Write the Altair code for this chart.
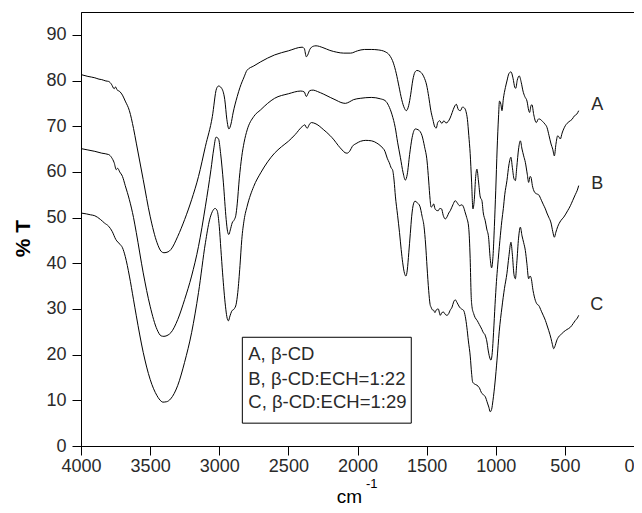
import altair as alt
import pandas as pd

# ---------------- data ----------------
wn_A = [4000,3950,3900,3870,3850,3820,3800,3780,3760,3750,3740,3720,3700,3680,3650,3620,3600,3550,3500,3450,3420,3400,3370,3350,3300,3250,3200,3150,3100,3050,3020,3005,2985,2960,2945,2930,2915,2900,2870,2850,2820,2800,2750,2700,2600,2500,2400,2385,2370,2360,2345,2320,2300,2250,2200,2150,2100,2050,2000,1950,1900,1850,1800,1770,1740,1720,1700,1680,1660,1647,1630,1615,1600,1585,1570,1545,1520,1500,1485,1470,1455,1440,1430,1420,1405,1390,1375,1360,1345,1330,1315,1300,1285,1270,1256,1240,1227,1215,1205,1195,1185,1175,1165,1155,1145,1136,1125,1112,1100,1090,1076,1065,1052,1040,1030,1020,1010,1000,990,980,973,963,955,945,930,919,905,890,875,862,855,845,830,815,803,790,774,762,755,745,738,725,707,690,678,660,645,629,615,600,588,576,565,552,540,533,520,497,470,448,430,415,400]
t_A = [81.3,80.9,80.6,80.3,80.2,79.9,79.8,79.2,78.2,78.6,78.0,77.6,76.8,75.5,73.4,69.5,66.3,58.3,50.3,44.5,42.6,42.3,42.5,43.0,45.9,49.6,53.9,59.0,65.6,72.1,78.2,78.8,78.4,75.8,71.5,69.4,70.5,72.9,76.5,78.5,80.8,82.2,83.2,84.1,85.6,86.5,87.3,87.0,85.2,85.6,86.8,87.5,87.6,87.2,86.6,86.2,86.0,86.0,86.5,86.8,86.8,86.7,86.3,85.6,83.8,81.6,78.7,75.8,73.9,73.4,74.5,77.0,80.1,81.8,82.2,81.9,80.8,79.0,76.5,73.5,71.5,69.8,69.6,70.8,71.2,70.6,71.2,70.7,71.0,71.8,73.0,74.2,74.8,73.6,73.4,74.2,74.0,73.2,71.5,68.0,64.0,58.0,51.9,54.0,59.0,60.6,58.0,54.5,53.7,51.0,49.3,47.5,45.7,41.0,39.0,41.5,48.0,56.0,65.0,72.0,75.5,74.8,73.4,76.0,78.5,79.9,81.5,81.9,80.5,78.5,78.3,80.0,81.0,79.5,77.7,76.5,75.5,73.5,73.0,74.5,74.7,72.5,70.8,71.6,71.5,71.0,70.5,69.7,68.0,66.1,65.0,63.5,66.0,67.9,67.5,67.2,68.5,70.1,71.0,71.5,72.3,72.6,73.4]

wn_B = [4000,3950,3900,3850,3800,3780,3760,3745,3735,3720,3700,3680,3650,3620,3600,3550,3500,3450,3420,3400,3370,3350,3300,3250,3200,3150,3100,3060,3040,3023,3005,2990,2970,2950,2940,2931,2920,2907,2890,2880,2870,2855,2837,2820,2798,2751,2700,2650,2600,2500,2410,2385,2370,2360,2345,2320,2290,2244,2197,2155,2120,2088,2060,2030,1980,1900,1835,1800,1775,1750,1727,1710,1690,1670,1654,1640,1623,1605,1582,1560,1533,1515,1497,1485,1475,1468,1458,1449,1440,1430,1416,1405,1392,1380,1365,1350,1340,1329,1310,1293,1278,1262,1245,1233,1220,1210,1196,1185,1178,1172,1160,1149,1135,1119,1100,1090,1080,1075,1065,1055,1045,1035,1025,1016,1005,995,986,970,956,945,935,919,905,890,880,868,858,848,835,822,810,798,786,772,762,752,745,735,720,705,690,670,655,641,630,617,600,588,576,565,552,530,508,480,460,444,425,410,400]
t_B = [65.1,64.8,64.5,64.1,63.8,63.2,62.0,60.5,60.8,60.0,59.0,57.0,53.9,50.0,46.7,37.9,30.6,25.5,24.1,24.0,24.3,24.8,27.7,32.1,37.2,43.7,52.5,60.5,65.0,67.6,67.2,64.0,57.6,49.6,47.0,46.3,47.3,48.8,49.6,50.5,53.0,58.5,63.4,66.5,69.2,72.1,73.6,75.0,76.1,77.1,77.7,77.5,76.5,77.0,77.8,77.9,77.6,77.0,76.3,75.7,75.2,75.0,75.3,75.8,76.1,76.3,76.0,75.6,74.5,72.5,69.7,66.5,63.2,59.8,58.2,59.5,63.8,67.5,69.4,69.2,67.9,65.5,62.4,58.0,54.0,52.3,52.5,53.0,52.0,51.6,51.5,52.0,51.9,50.5,49.7,50.3,51.0,51.5,52.8,53.7,53.2,52.6,52.8,52.3,51.0,50.0,47.9,41.0,33.0,30.5,29.0,28.1,27.5,26.6,25.5,24.8,24.5,24.1,23.0,21.0,19.5,18.8,20.5,24.8,31.0,36.0,39.4,45.0,49.3,52.0,55.0,58.1,61.5,63.2,61.0,58.5,58.1,61.0,65.0,66.8,65.0,63.5,62.1,59.5,57.7,59.0,58.8,57.0,55.6,55.2,55.0,53.8,52.8,51.9,51.0,50.1,48.8,47.0,45.7,46.8,48.0,49.3,50.1,51.5,52.6,53.7,55.0,56.0,57.0]

wn_C = [4000,3960,3930,3900,3860,3830,3800,3775,3748,3720,3700,3680,3650,3620,3600,3550,3500,3450,3420,3408,3380,3352,3301,3251,3200,3150,3100,3070,3050,3030,3015,3000,2988,2976,2955,2945,2934,2922,2910,2890,2878,2866,2850,2837,2820,2798,2751,2700,2650,2600,2550,2500,2450,2401,2380,2370,2362,2350,2333,2300,2244,2200,2170,2140,2111,2090,2075,2055,2037,2010,1978,1940,1898,1860,1830,1800,1785,1770,1755,1747,1735,1726,1710,1696,1684,1673,1660,1650,1640,1629,1618,1608,1595,1584,1570,1549,1533,1519,1507,1497,1485,1475,1468,1458,1449,1440,1430,1416,1401,1390,1377,1365,1353,1340,1330,1316,1305,1293,1280,1262,1248,1233,1220,1209,1198,1184,1175,1167,1155,1136,1120,1100,1088,1076,1060,1050,1040,1030,1020,1005,991,975,955,937,919,905,890,880,868,858,848,835,822,810,798,786,775,762,752,745,730,714,700,690,670,655,641,630,617,600,590,581,570,560,545,525,508,485,460,440,424,410,400]
t_C = [51.0,50.8,50.6,50.4,49.6,48.8,48.1,47.0,45.2,44.2,43.4,41.5,37.2,32.0,28.5,20.5,14.6,11.0,9.8,9.6,9.7,10.3,13.2,18.3,24.8,33.6,44.5,49.5,51.3,52.0,51.5,48.1,43.0,37.9,30.6,28.3,27.4,28.5,29.5,30.1,31.0,33.6,39.5,45.2,49.5,52.5,56.8,59.8,62.2,64.1,65.5,66.7,68.2,69.9,70.3,69.7,69.6,70.3,70.8,70.5,69.2,68.0,67.0,65.8,64.8,64.2,64.1,64.6,65.6,66.2,66.7,66.9,66.8,66.3,65.6,64.4,63.0,62.0,60.8,60.5,58.0,54.7,50.5,46.7,43.0,40.1,37.8,37.2,38.5,42.3,46.5,50.3,53.0,53.6,53.3,52.5,50.3,48.1,44.0,39.2,34.0,31.0,30.4,29.8,29.7,29.2,29.8,30.0,28.6,29.2,29.3,28.8,28.6,29.0,29.7,30.4,31.5,32.0,31.4,30.4,30.0,29.7,28.3,26.0,23.0,19.5,16.0,14.0,13.6,13.3,12.8,11.5,11.2,10.8,9.4,8.5,7.5,8.0,10.0,14.0,18.8,25.0,30.4,34.5,37.8,41.5,44.6,42.0,37.5,36.6,40.0,45.5,47.9,46.0,44.5,42.8,40.0,36.6,37.2,36.9,34.0,31.9,31.0,30.8,29.5,28.5,27.5,26.5,25.3,23.5,22.2,21.3,22.0,23.0,23.9,24.5,25.0,25.5,26.0,26.8,27.5,28.0,28.6]

curve_names = ["A", "B", "C"]
curve_label_wn = [265, 266, 270]
curve_label_t = [74.7, 57.4, 30.8]

legend_lines = ["A, β-CD", "B, β-CD:ECH=1:22", "C, β-CD:ECH=1:29"]
legend_line_t = [20.1, 14.6, 9.6]
legend_text_wn = 2790
legend_box = {"wn1": 2833, "wn2": 1611, "t1": 23.8, "t2": 5.0}

x_ticks = list(range(0, 4001, 250))
y_ticks = list(range(0, 91, 5))

# ---------------- tables ----------------
rows = []
for name, wns, ts in [("A", wn_A, t_A), ("B", wn_B, t_B), ("C", wn_C, t_C)]:
    for w, t in zip(wns, ts):
        rows.append({"curve": name, "wn": w, "T": t})
spectra = pd.DataFrame(rows)
labels_df = pd.DataFrame({"name": curve_names, "wn": curve_label_wn, "T": curve_label_t})
legend_df = pd.DataFrame({"text": legend_lines, "T": legend_line_t, "wn": [legend_text_wn] * 3})
box_df = pd.DataFrame([legend_box])

FONT = "Liberation Sans"
TXT = "#2a2a2a"

xscale = alt.Scale(domain=[0, 4000], reverse=True, nice=False, zero=False)
yscale = alt.Scale(domain=[0, 95], nice=False, zero=False)

x_axis = alt.Axis(
    values=x_ticks, format="d",
    labelExpr="datum.value % 500 === 0 ? datum.label : ''",
    tickSize={"condition": {"test": "datum.value % 500 === 0", "value": 9}, "value": 5},
    labelAlign={"condition": {"test": "datum.value === 0", "value": "right"}, "value": "center"},
    labelFlush=False, labelOverlap=False, grid=False,
    labelFontSize=18, labelFont=FONT, labelColor=TXT, labelPadding=2,
    domainColor="black", tickColor="black", domainWidth=1, tickWidth=1,
    title="cm", titleFontSize=19, titleFont=FONT, titleFontWeight="normal", titleColor="black",
    titleX=268, titleY=56, titleBaseline="alphabetic", titleAlign="center",
)
y_axis = alt.Axis(
    values=y_ticks, format="d",
    labelExpr="datum.value % 10 === 0 ? datum.label : ''",
    tickSize={"condition": {"test": "datum.value % 10 === 0", "value": 9}, "value": 4.5},
    labelOverlap=False, labelFlush=False, grid=False,
    labelFontSize=18, labelFont=FONT, labelColor=TXT, labelPadding=6,
    domainColor="black", tickColor="black", domainWidth=1, tickWidth=1,
    title="% T", titleFontSize=21, titleFont=FONT, titleFontWeight="bold", titleColor="black",
    titleX=-58, titleY=226, titleAngle=-90, titleBaseline="middle", titleAlign="center",
)

lines = alt.Chart(spectra).mark_line(color="black", strokeWidth=1, interpolate="monotone").encode(
    x=alt.X("wn:Q", scale=xscale, axis=x_axis),
    y=alt.Y("T:Q", scale=yscale, axis=y_axis),
    detail="curve:N",
    order="wn:Q",
)

curve_labels = alt.Chart(labels_df).mark_text(
    fontSize=18, font=FONT, color=TXT, align="center", baseline="middle"
).encode(x=alt.X("wn:Q", scale=xscale), y=alt.Y("T:Q", scale=yscale), text="name:N")

box = alt.Chart(box_df).mark_rect(fill="white", stroke="black", strokeWidth=1).encode(
    x=alt.X("wn1:Q", scale=xscale), x2="wn2:Q",
    y=alt.Y("t1:Q", scale=yscale), y2="t2:Q",
)

legend_text = alt.Chart(legend_df).mark_text(
    fontSize=18.5, font=FONT, color=TXT, align="left", baseline="middle"
).encode(x=alt.X("wn:Q", scale=xscale), y=alt.Y("T:Q", scale=yscale), text="text:N")

sup = alt.Chart(pd.DataFrame({"s": ["-1"]})).mark_text(
    fontSize=13, font=FONT, color="black", align="left", baseline="alphabetic"
).encode(x=alt.value(285), y=alt.value(476), text="s:N")

chart = alt.layer(lines, box, legend_text, curve_labels, sup).properties(
    width=553, height=434,
    autosize=alt.AutoSizeParams(type="none"),
    padding={"left": 73, "top": 4, "right": 0, "bottom": 59},
).configure_view(stroke="black", strokeWidth=1)

chart.save("out.html", embed_options={"renderer": "svg", "actions": False})
